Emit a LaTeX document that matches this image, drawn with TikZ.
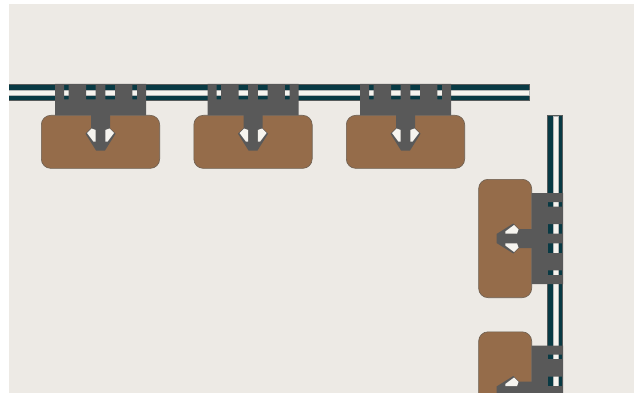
\documentclass[tikz,border=0pt]{standalone}
\usepackage{xcolor}
\definecolor{wall}{RGB}{237, 234, 229}
\definecolor{railteal}{RGB}{9, 58, 68}
\definecolor{railedge}{RGB}{88, 92, 92}
\definecolor{slot}{RGB}{246, 244, 239}
\definecolor{clipgray}{RGB}{89, 89, 89}
\definecolor{wood}{RGB}{149, 108, 74}
\definecolor{woodedge}{RGB}{108, 94, 80}
\tikzset{
    rail/.style={fill=railteal, draw=railedge, line width=0.7pt},
    railslot/.style={fill=slot, draw=railedge!45, line width=0.4pt},
    cardbody/.style={fill=wood, draw=woodedge, line width=0.6pt, rounded corners=9.5pt},
    clipbody/.style={fill=clipgray, even odd rule},
    cliphole/.style={fill=slot},
    card/.pic={
        \draw[cardbody] (-59.2, 0.3) rectangle (59.2, 53.4);
        % Tab with its four windows
        \fill[clipbody] (-45.5, 0.3) rectangle (45.5, -31)
            (-36.5, -15.7) rectangle (-31.8, -31)
            (-14.5, -15.7) rectangle (-4.8, -31)
            (4.8, -15.7) rectangle (14.5, -31)
            (31.8, -15.7) rectangle (36.5, -31);
        % Stem and barbs
        \fill[clipgray] (-9.5, -1) -- (-9.5, 13) -- (-15, 18.7) -- (-4.5, 35.5) -- (4.5, 35.5) -- (15, 18.7) -- (9.5, 13) -- (9.5, -1) -- cycle;
        \fill[cliphole] (-9, 13.5) -- (-13.5, 18) -- (-7, 26.7) -- (-4.8, 26.7) -- (-4.8, 15) -- cycle;
        \fill[cliphole] (9, 13.5) -- (13.5, 18) -- (7, 26.7) -- (4.8, 26.7) -- (4.8, 15) -- cycle;
    }
}

\begin{document}
\begin{tikzpicture}[x=1pt, y=-1pt]
    \useasboundingbox (0, 0) rectangle (634, 393);
    \clip (0, 0) rectangle (634, 393);

    % Wall
    \fill[wall] (9, 4) rectangle (634, 393);

    % Rails
    \draw[rail] (0, 84.4) rectangle (529.8, 100.6);
    \draw[railslot] (0, 90.3) rectangle (529.3, 95);
    \draw[rail] (547.3, 115.4) rectangle (562.8, 400);
    \draw[railslot] (552.9, 115.8) rectangle (557.8, 400);
    \fill[white] (0, 80) rectangle (9, 105);

    % Top row
    \foreach \cx in {100.5, 253, 405.5}
        \pic at (\cx, 115) {card};

    % Right column
    \foreach \cy in {238.5, 391}
        \pic[rotate=-90] at (532, \cy) {card};
\end{tikzpicture}
\end{document}
